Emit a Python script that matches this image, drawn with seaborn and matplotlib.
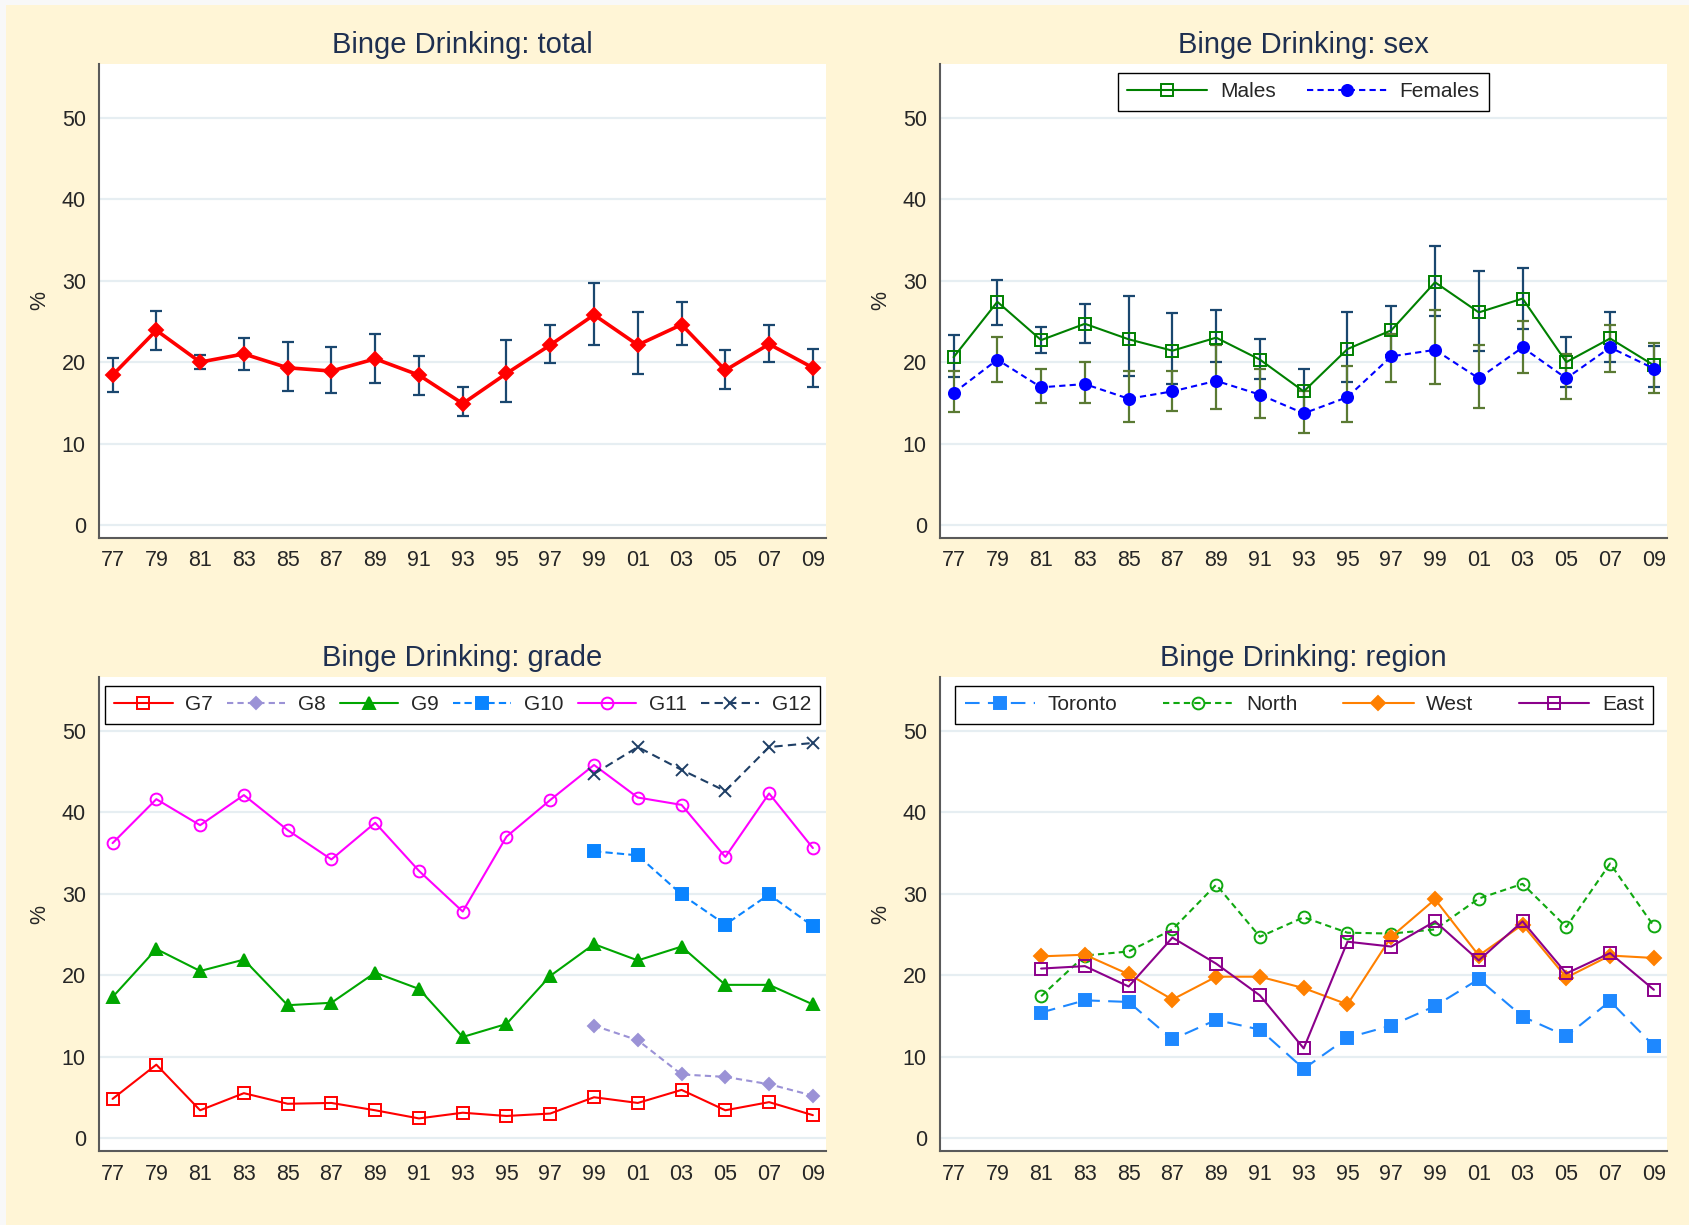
import numpy as np
import pandas as pd
import matplotlib
matplotlib.use("Agg")
import matplotlib.pyplot as plt
from matplotlib.patches import Rectangle
import seaborn as sns

# ---------------- data ----------------
years = [1977, 1979, 1981, 1983, 1985, 1987, 1989, 1991, 1993,
         1995, 1997, 1999, 2001, 2003, 2005, 2007, 2009]
year_labels = ["77", "79", "81", "83", "85", "87", "89", "91", "93",
               "95", "97", "99", "01", "03", "05", "07", "09"]
nan = np.nan

total = [18.4, 23.9, 20.0, 21.0, 19.3, 18.9, 20.4, 18.4, 14.9,
         18.6, 22.1, 25.8, 22.1, 24.6, 19.0, 22.2, 19.3]
total_lo = [16.3, 21.5, 19.2, 19.0, 16.4, 16.2, 17.4, 16.0, 13.4,
            15.1, 19.9, 22.1, 18.5, 22.1, 16.7, 20.0, 17.0]
total_hi = [20.5, 26.3, 20.9, 23.0, 22.5, 21.8, 23.5, 20.8, 16.9,
            22.7, 24.6, 29.7, 26.2, 27.4, 21.5, 24.6, 21.6]

males = [20.6, 27.4, 22.7, 24.7, 22.8, 21.4, 23.0, 20.3, 16.4,
         21.6, 23.9, 29.8, 26.1, 27.8, 20.0, 22.9, 19.6]
males_lo = [18.2, 24.6, 21.1, 22.3, 18.3, 17.3, 20.0, 17.9, 13.9,
            17.5, 20.9, 25.6, 21.4, 24.1, 17.0, 20.0, 17.0]
males_hi = [23.3, 30.1, 24.3, 27.1, 28.1, 26.0, 26.4, 22.8, 19.2,
            26.1, 26.9, 34.3, 31.2, 31.6, 23.1, 26.1, 22.0]

females = [16.2, 20.3, 16.9, 17.3, 15.5, 16.4, 17.7, 16.0, 13.7,
           15.7, 20.7, 21.5, 18.0, 21.8, 18.0, 21.8, 19.2]
females_lo = [13.9, 17.6, 15.0, 15.0, 12.6, 14.0, 14.2, 13.1, 11.3,
              12.6, 17.6, 17.3, 14.4, 18.7, 15.5, 18.8, 16.2]
females_hi = [18.9, 23.1, 19.1, 20.0, 18.9, 18.9, 22.1, 19.1, 16.4,
              19.5, 23.5, 26.4, 22.1, 25.0, 21.0, 24.5, 22.3]

g7 = [4.8, 9.0, 3.4, 5.5, 4.2, 4.3, 3.4, 2.4, 3.1,
      2.7, 3.0, 5.0, 4.3, 5.9, 3.4, 4.4, 2.8]
g8 = [nan] * 11 + [13.8, 12.0, 7.8, 7.5, 6.6, 5.2]
g9 = [17.3, 23.2, 20.5, 21.9, 16.3, 16.6, 20.3, 18.3, 12.4,
      14.0, 19.9, 23.8, 21.8, 23.5, 18.8, 18.8, 16.4]
g10 = [nan] * 11 + [35.2, 34.7, 29.9, 26.2, 29.9, 26.0]
g11 = [36.2, 41.6, 38.4, 42.1, 37.8, 34.2, 38.7, 32.8, 27.8,
       37.0, 41.5, 45.8, 41.8, 40.9, 34.5, 42.3, 35.6]
g12 = [nan] * 11 + [44.7, 48.0, 45.2, 42.6, 48.0, 48.5]

toronto = [nan, nan, 15.4, 16.9, 16.7, 12.1, 14.5, 13.3, 8.5,
           12.3, 13.8, 16.2, 19.5, 14.9, 12.5, 16.8, 11.3]
north = [nan, nan, 17.4, 22.4, 22.9, 25.6, 31.1, 24.7, 27.1,
         25.2, 25.1, 25.6, 29.4, 31.2, 25.9, 33.7, 26.0]
west = [nan, nan, 22.3, 22.5, 20.1, 17.0, 19.8, 19.8, 18.4,
        16.4, 24.7, 29.3, 22.4, 26.2, 19.7, 22.4, 22.1]
east = [nan, nan, 20.8, 21.1, 18.6, 24.6, 21.4, 17.5, 11.0,
        24.1, 23.5, 26.6, 21.8, 26.6, 20.2, 22.7, 18.2]

# ---------------- style ----------------
sns.set_style("white")
plt.rcParams["font.family"] = ["Liberation Sans", "DejaVu Sans"]

CREAM = "#FFF5D6"
TITLE_C = "#1E2F50"
GRID_C = "#E6EEF2"
AXIS_C = "#5A5A5A"
CI_NAVY = "#1A476F"
CI_OLIVE = "#5A7A33"
TICK_FS = 15.5

W, H = 1690, 1225
fig = plt.figure(figsize=(W / 100, H / 100), dpi=100, facecolor="#F8F8F8")
fig.patches.append(Rectangle((6 / W, 0), 1, 1 - 5 / H, transform=fig.transFigure,
                             facecolor=CREAM, edgecolor="none", zorder=-10))


def make_axes(left, top, right, bottom):
    ax = fig.add_axes([left / W, 1 - bottom / H, (right - left) / W, (bottom - top) / H])
    ax.set_facecolor("white")
    ax.set_xlim(1977 - 0.62, 2009 + 0.6)
    ax.set_ylim(-1.6, 56.6)
    ax.set_yticks([0, 10, 20, 30, 40, 50])
    ax.set_xticks(years)
    ax.set_xticklabels(year_labels)
    for s in ("top", "right"):
        ax.spines[s].set_visible(False)
    for s in ("left", "bottom"):
        ax.spines[s].set_color(AXIS_C)
        ax.spines[s].set_linewidth(1.5)
    ax.tick_params(axis="x", direction="inout", length=6, width=1, color=AXIS_C,
                   labelsize=TICK_FS, pad=6)
    ax.tick_params(axis="y", direction="out", length=6.5, width=1, color=AXIS_C,
                   labelsize=TICK_FS, pad=3)
    ax.grid(False)
    for v in [0, 10, 20, 30, 40, 50]:
        ax.axhline(v, color=GRID_C, lw=1.6, zorder=0)
    return ax


def finish(ax, title):
    ax.set_title(title, fontsize=21, color=TITLE_C, pad=8)
    ax.set_ylabel("%", fontsize=TICK_FS, labelpad=8)
    ax.set_xlabel("")


def draw(ax, vals, color, marker, ls="-", lw=1.5, ms=7.5, filled=True, label=None, mew=1.4):
    df = pd.DataFrame({"year": years, "val": vals}).dropna()
    kws = dict(x="year", y="val", data=df, ax=ax, color=color, marker=marker,
               linestyle=ls, linewidth=lw, markersize=ms,
               markeredgecolor=color, markeredgewidth=mew,
               markerfacecolor=color if filled else "none", zorder=4)
    if label is not None:
        kws["label"] = label
    sns.lineplot(**kws)


def ci(ax, vals, lo, hi, color):
    v = np.array(vals)
    ax.errorbar(years, v, yerr=[v - np.array(lo), np.array(hi) - v], fmt="none",
                ecolor=color, elinewidth=1.6, capsize=4, capthick=1.6, zorder=3)


def legend(ax, ncol, x0, width, hl):
    ax.legend(loc="upper left", bbox_to_anchor=(x0, 0, width, 0.981), mode="expand",
              ncol=ncol, fontsize=15, frameon=True, fancybox=False,
              edgecolor="black", framealpha=1, handlelength=hl,
              handletextpad=0.6, columnspacing=1.2, borderpad=0.45,
              borderaxespad=0, numpoints=1)
    ax.get_legend().get_frame().set_linewidth(1.0)


L1, R1, L2, R2 = 99, 826, 940, 1667
T1, B1, T2, B2 = 64, 538, 677, 1151

# total
ax1 = make_axes(L1, T1, R1, B1)
ci(ax1, total, total_lo, total_hi, CI_NAVY)
draw(ax1, total, "#FF0000", "D", lw=2.6, ms=7.5)
finish(ax1, "Binge Drinking: total")

# sex
ax2 = make_axes(L2, T1, R2, B1)
ci(ax2, males, males_lo, males_hi, CI_NAVY)
ci(ax2, females, females_lo, females_hi, CI_OLIVE)
draw(ax2, males, "#008000", "s", ms=8, filled=False, label="Males")
draw(ax2, females, "#0000FF", "o", ls=(0, (3, 2)), ms=8, label="Females")
finish(ax2, "Binge Drinking: sex")
ax2.legend(loc="upper center", bbox_to_anchor=(0.5, 0.981), ncol=2, fontsize=15,
           frameon=True, fancybox=False, edgecolor="black", framealpha=1,
           handlelength=3.85, handletextpad=0.6, columnspacing=1.5,
           borderpad=0.45, borderaxespad=0, numpoints=1)
ax2.get_legend().get_frame().set_linewidth(1.0)

# grade
ax3 = make_axes(L1, T2, R1, B2)
draw(ax3, g7, "#FF0000", "s", ms=8, filled=False, label="G7")
draw(ax3, g8, "#9B92D6", "D", ls=(0, (3, 2)), ms=6.5, label="G8")
draw(ax3, g9, "#00A600", "^", ms=9, label="G9")
draw(ax3, g10, "#0A84FF", "s", ls=(0, (3.5, 2)), ms=8.5, label="G10")
draw(ax3, g11, "#FF00FF", "o", ms=8.5, filled=False, label="G11")
draw(ax3, g12, "#1F3F66", "x", ls=(0, (4, 2.5)), ms=8, label="G12")
finish(ax3, "Binge Drinking: grade")
legend(ax3, 6, 0.008, 0.984, 2.8)

# region
ax4 = make_axes(L2, T2, R2, B2)
draw(ax4, toronto, "#1E88FF", "s", ls=(0, (7, 4)), ms=8.5, label="Toronto")
draw(ax4, north, "#10A810", "o", ls=(0, (3, 2)), ms=8.5, filled=False, label="North")
draw(ax4, west, "#FF8000", "D", ms=7, label="West")
draw(ax4, east, "#8B008B", "s", ms=8.5, filled=False, label="East")
finish(ax4, "Binge Drinking: region")
legend(ax4, 4, 0.021, 0.96, 3.4)

fig.savefig("out.png", dpi=100, facecolor=fig.get_facecolor())
